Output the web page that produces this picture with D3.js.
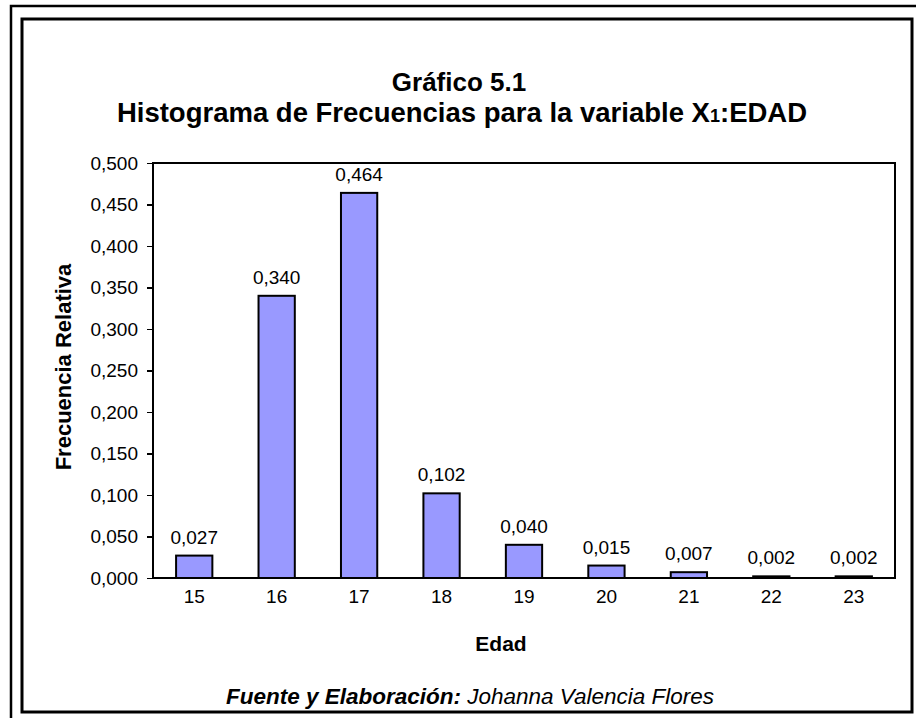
<!DOCTYPE html>
<head>
  <meta charset="utf-8">
  <script src="https://d3js.org/d3.v7.min.js"></script>
  <style>
    body { margin:0; background:#fff; }
    text { font-family: "Liberation Sans", Arial, Helvetica, sans-serif; fill:#000; }
    .axis path, .axis line { fill:none; stroke:#000; stroke-width:1.5px; shape-rendering: crispEdges; }
    .axis text { font-size:19px; }
  </style>
</head>
<body>
  <script>
    var edades = ["15", "16", "17", "18", "19", "20", "21", "22", "23"];
    var frecuencias = [0.027, 0.340, 0.464, 0.102, 0.040, 0.015, 0.007, 0.002, 0.002];
    var yTicks = [0, 0.05, 0.1, 0.15, 0.2, 0.25, 0.3, 0.35, 0.4, 0.45, 0.5];

    var W = 916, H = 718;
    var plot = {left: 153, top: 163, right: 895, bottom: 578};

    var fmt = function(v) { return d3.format(".3f")(v).replace(".", ","); };

    var svg = d3.select("body").append("svg")
        .attr("width", W)
        .attr("height", H);

    // outer and inner frames
    svg.append("path")
        .attr("d", "M11,718 V6 H916")
        .attr("fill", "none").attr("stroke", "#000").attr("stroke-width", 2.5);
    svg.append("rect")
        .attr("x", 22).attr("y", 19).attr("width", 890).attr("height", 693)
        .attr("fill", "none").attr("stroke", "#000").attr("stroke-width", 3);

    var x = d3.scaleBand()
        .domain(edades)
        .range([plot.left, plot.right])
        .padding(0);
    var y = d3.scaleLinear()
        .domain([0, 0.5])
        .range([plot.bottom, plot.top]);

    // plot area border
    svg.append("rect")
        .attr("x", plot.left).attr("y", plot.top)
        .attr("width", plot.right - plot.left).attr("height", plot.bottom - plot.top)
        .attr("fill", "none").attr("stroke", "#000").attr("stroke-width", 1.5)
        .attr("shape-rendering", "crispEdges");

    var barW = x.step() * 0.44;

    svg.selectAll(".bar")
        .data(frecuencias)
        .enter().append("rect")
        .attr("class", "bar")
        .attr("x", (d, i) => x(edades[i]) + x.bandwidth() / 2 - barW / 2)
        .attr("width", barW)
        .attr("y", d => y(d))
        .attr("height", d => y(0) - y(d))
        .attr("fill", "#9999ff")
        .attr("stroke", "#000")
        .attr("stroke-width", 2);

    svg.selectAll(".label")
        .data(frecuencias)
        .enter().append("text")
        .attr("class", "label")
        .attr("x", (d, i) => x(edades[i]) + x.bandwidth() / 2)
        .attr("y", d => y(d) - 12)
        .attr("text-anchor", "middle")
        .style("font-size", "19px")
        .text(d => fmt(d));

    var xAxis = d3.axisBottom(x).tickSize(0).tickPadding(12);
    var yAxis = d3.axisLeft(y).tickValues(yTicks).tickSize(6).tickSizeOuter(0).tickPadding(9).tickFormat(fmt);

    svg.append("g")
        .attr("class", "x axis")
        .attr("transform", "translate(0," + plot.bottom + ")")
        .call(xAxis)
        .call(g => g.select(".domain").remove());
    svg.append("g")
        .attr("class", "y axis")
        .attr("transform", "translate(" + plot.left + ",0)")
        .call(yAxis);

    // titles
    svg.append("text")
        .attr("x", 459).attr("y", 91)
        .attr("text-anchor", "middle")
        .style("font-size", "26px").style("font-weight", "bold")
        .text("Gráfico 5.1");

    var sub = svg.append("text")
        .attr("x", 462).attr("y", 122)
        .attr("text-anchor", "middle")
        .style("font-size", "27.5px").style("font-weight", "bold");
    sub.append("tspan").text("Histograma de Frecuencias para la variable X");
    sub.append("tspan").style("font-size", "18px").text("1");
    sub.append("tspan").text(":EDAD");

    svg.append("text")
        .attr("transform", "translate(71,367) rotate(-90)")
        .attr("text-anchor", "middle")
        .style("font-size", "22px").style("font-weight", "bold")
        .text("Frecuencia Relativa");

    svg.append("text")
        .attr("x", 501).attr("y", 651)
        .attr("text-anchor", "middle")
        .style("font-size", "21px").style("font-weight", "bold")
        .text("Edad");

    var foot = svg.append("text")
        .attr("x", 470).attr("y", 704)
        .attr("text-anchor", "middle")
        .style("font-size", "22.5px").style("font-style", "italic");
    foot.append("tspan").style("font-weight", "bold").text("Fuente y Elaboración:");
    foot.append("tspan").text(" Johanna Valencia Flores");
  </script>
</body>
